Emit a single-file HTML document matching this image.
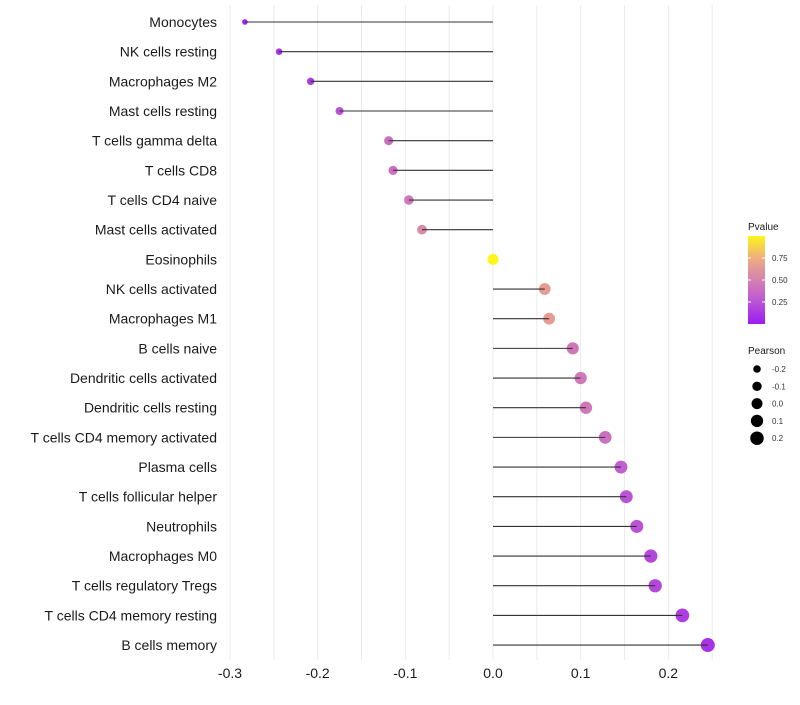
<!DOCTYPE html>
<html><head><meta charset="utf-8"><style>
body{margin:0;background:#fff;font-family:"Liberation Sans",sans-serif}
</style></head><body>
<svg id="chart" width="800" height="700" xmlns="http://www.w3.org/2000/svg">
<defs><linearGradient id="pg" x1="0" y1="1" x2="0" y2="0">
<stop offset="0" stop-color="#9b1cf2"/><stop offset="0.3" stop-color="#c15ed0"/><stop offset="0.55" stop-color="#d98aa8"/><stop offset="0.75" stop-color="#eeae7e"/><stop offset="1" stop-color="#fff51a"/></linearGradient></defs>
<g id="grid"></g><g id="dots"></g><g id="marks"></g><g id="labels"></g><g id="legend"></g>
</svg>
<script>
const categories=["Monocytes","NK cells resting","Macrophages M2","Mast cells resting","T cells gamma delta","T cells CD8","T cells CD4 naive","Mast cells activated","Eosinophils","NK cells activated","Macrophages M1","B cells naive","Dendritic cells activated","Dendritic cells resting","T cells CD4 memory activated","Plasma cells","T cells follicular helper","Neutrophils","Macrophages M0","T cells regulatory  Tregs","T cells CD4 memory resting","B cells memory"];
const pearson=[-0.283,-0.244,-0.208,-0.175,-0.119,-0.114,-0.096,-0.081,0.0,0.059,0.064,0.091,0.100,0.106,0.128,0.146,0.152,0.164,0.180,0.185,0.216,0.245];
const pvalues=[0.05,0.1,0.15,0.25,0.4,0.4,0.45,0.55,1.0,0.65,0.65,0.45,0.45,0.45,0.4,0.3,0.25,0.25,0.2,0.2,0.15,0.1];
const xTicks=[-0.3,-0.2,-0.1,0.0,0.1,0.2];
const xTickLabels=["-0.3","-0.2","-0.1","0.0","0.1","0.2"];
const sizeLegend=[-0.2,-0.1,0.0,0.1,0.2];
const sizeLegendLabels=["-0.2","-0.1","0.0","0.1","0.2"];
const pLegendTicks=[0.25,0.5,0.75];
const pLegendLabels=["0.25","0.50","0.75"];

const NS="http://www.w3.org/2000/svg";
const x=v=>493+v*876.7;
const y=i=>22+i*29.67;
const r=p=>Math.sqrt(Math.max(2,30+78*p));
const stops=[[0,[155,28,242]],[0.3,[193,94,208]],[0.55,[217,138,168]],[0.75,[238,174,126]],[1,[255,245,26]]];
function col(p){for(let i=1;i<stops.length;i++){if(p<=stops[i][0]){const a=stops[i-1],b=stops[i],t=(p-a[0])/(b[0]-a[0]);return 'rgb('+a[1].map((c,k)=>Math.round(c+(b[1][k]-c)*t)).join(',')+')';}}return 'rgb(255,245,26)';}
function mk(tag,attrs,parent){const e=document.createElementNS(NS,tag);for(const k in attrs)e.setAttribute(k,attrs[k]);parent.appendChild(e);return e;}
const grid=document.getElementById('grid'),dots=document.getElementById('dots'),marks=document.getElementById('marks'),labels=document.getElementById('labels'),legend=document.getElementById('legend');
for(let v=-0.3;v<=0.251;v+=0.05){const g=mk('line',{x1:x(v),x2:x(v),y1:5,y2:660,stroke:'#ebebeb','stroke-width':1},grid);

}
categories.forEach((c,i)=>{
 const t=mk('text',{x:217,y:y(i)+5,'text-anchor':'end','font-size':14,fill:'#1a1a1a'},labels);t.textContent=c;
 
 
 const d=mk('circle',{cx:x(pearson[i]),cy:y(i),r:r(pearson[i]),fill:col(pvalues[i])},dots);
 
 
 const l=mk('line',{x1:x(0),x2:x(pearson[i]),y1:y(i),y2:y(i),stroke:'#333','stroke-width':1.1},marks);
 
 
});
xTicks.forEach((v,i)=>{const t=mk('text',{x:x(v),y:678,'text-anchor':'middle','font-size':14,fill:'#1a1a1a'},labels);t.textContent=xTickLabels[i];
 
 });
let t=mk('text',{x:748,y:230,'font-size':10,fill:'#1a1a1a'},legend);t.textContent='Pvalue';


const bar=mk('rect',{x:748,y:236,width:17,height:88,fill:'url(#pg)'},legend);


const py=p=>324-p*88;
pLegendTicks.forEach((p,i)=>{mk('line',{x1:748,x2:751,y1:py(p),y2:py(p),stroke:'#fff'},legend);mk('line',{x1:762,x2:765,y1:py(p),y2:py(p),stroke:'#fff'},legend);
 const tt=mk('text',{x:772,y:py(p)+3,'font-size':8,fill:'#333'},legend);tt.textContent=pLegendLabels[i];
 
 });
t=mk('text',{x:748,y:354,'font-size':10,fill:'#1a1a1a'},legend);t.textContent='Pearson';


sizeLegend.forEach((p,i)=>{const cy=369+i*17.3;const c=mk('circle',{cx:757,cy:cy,r:r(p),fill:'#000'},legend);
 
 
 const tt=mk('text',{x:772,y:cy+3,'font-size':8,fill:'#333'},legend);tt.textContent=sizeLegendLabels[i];
 
 });
</script>
</body></html>
